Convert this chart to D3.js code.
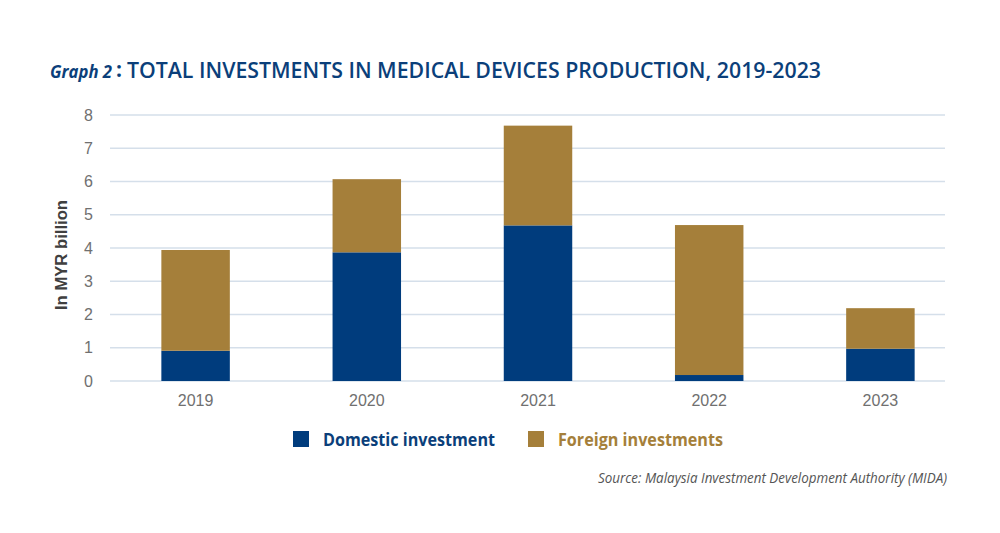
<!DOCTYPE html>
<html>
<head>
<meta charset="utf-8">
<script src="https://cdn.jsdelivr.net/npm/d3@7"></script>
<style>
  body { margin: 0; background: #fff; }
  svg { display: block; font-family: "Open Sans", "Noto Sans", sans-serif; }
</style>
</head>
<body>
<svg id="chart" width="1000" height="533"></svg>
<script>
// data
var years = ["2019", "2020", "2021", "2022", "2023"];
var domestic = [0.91, 3.87, 4.68, 0.18, 0.97];
var foreign = [3.03, 2.20, 3.00, 4.51, 1.22];
var yTicks = [0, 1, 2, 3, 4, 5, 6, 7, 8];
var seriesNames = ["Domestic investment", "Foreign investments"];
var seriesColors = ["#003c7d", "#a57f3a"];

var svg = d3.select("#chart");
var navy = "#0b3f7a";

var rows = years.map(function (y, i) {
  return { year: y, domestic: domestic[i], foreign: foreign[i] };
});
var stack = d3.stack().keys(["domestic", "foreign"])(rows);

var x = d3.scaleBand().domain(years).range([110, 966]).paddingInner(0.6).paddingOuter(0.3);
var y = d3.scaleLinear().domain([0, 8]).range([381, 115]);

// gridlines
svg.append("g").selectAll("line").data(yTicks).join("line")
  .attr("x1", 110).attr("x2", 945)
  .attr("y1", d => y(d)).attr("y2", d => y(d))
  .attr("stroke", "#d5dfea").attr("stroke-width", 1.5);

// y axis labels
var yAxis = svg.append("g").attr("transform", "translate(99,0)")
  .call(d3.axisLeft(y).tickValues(yTicks).tickSize(0).tickPadding(6));
yAxis.select(".domain").remove();
yAxis.selectAll("text").attr("font-size", 16).attr("fill", "#707070")
  .attr("font-family", "'Liberation Sans', Arial, sans-serif");

// bars
svg.append("g").selectAll("g").data(stack).join("g")
  .attr("fill", (d, i) => seriesColors[i])
  .selectAll("rect").data(d => d).join("rect")
  .attr("x", d => x(d.data.year))
  .attr("width", x.bandwidth())
  .attr("y", d => y(d[1]))
  .attr("height", d => y(d[0]) - y(d[1]));

// x axis labels
var xAxis = svg.append("g").attr("transform", "translate(0,387)")
  .call(d3.axisBottom(x).tickSize(0).tickPadding(8));
xAxis.select(".domain").remove();
xAxis.selectAll("text").attr("font-size", 16).attr("fill", "#707070")
  .attr("font-family", "'Liberation Sans', Arial, sans-serif");

// y title
svg.append("text")
  .attr("transform", "translate(67,255) rotate(-90)")
  .attr("text-anchor", "middle")
  .attr("font-size", 16).attr("font-weight", 700).attr("fill", "#404040")
  .attr("font-family", "'Liberation Sans', Arial, sans-serif")
  .attr("textLength", 110).attr("lengthAdjust", "spacingAndGlyphs")
  .text("In MYR billion");

// title
svg.append("text")
  .attr("x", 50).attr("y", 78)
  .attr("font-size", 17).attr("font-weight", 700).attr("font-style", "italic")
  .attr("fill", navy)
  .attr("textLength", 62).attr("lengthAdjust", "spacingAndGlyphs")
  .text("Graph 2");
svg.append("text")
  .attr("x", 116).attr("y", 77)
  .attr("font-size", 21).attr("font-weight", 700).attr("fill", navy)
  .text(":");
svg.append("text")
  .attr("x", 127).attr("y", 78)
  .attr("font-size", 21).attr("font-weight", 600).attr("fill", navy)
  .attr("textLength", 694).attr("lengthAdjust", "spacingAndGlyphs")
  .text("TOTAL INVESTMENTS IN MEDICAL DEVICES PRODUCTION, 2019-2023");

// legend
var legendX = [293, 528];
var legendW = [172, 165];
var legend = svg.append("g").selectAll("g").data(seriesNames).join("g")
  .attr("transform", (d, i) => "translate(" + legendX[i] + ",431)");
legend.append("rect").attr("width", 16).attr("height", 16)
  .attr("fill", (d, i) => seriesColors[i]);
legend.append("text")
  .attr("x", 30).attr("y", 15)
  .attr("font-size", 18).attr("font-weight", 700)
  .attr("fill", (d, i) => i === 0 ? navy : "#a57f3a")
  .attr("textLength", (d, i) => legendW[i]).attr("lengthAdjust", "spacingAndGlyphs")
  .text(d => d);

// source
svg.append("text")
  .attr("x", 947).attr("y", 483)
  .attr("text-anchor", "end")
  .attr("font-size", 14).attr("font-style", "italic").attr("fill", "#555")
  .attr("textLength", 349).attr("lengthAdjust", "spacingAndGlyphs")
  .text("Source: Malaysia Investment Development Authority (MIDA)");
</script>
</body>
</html>
